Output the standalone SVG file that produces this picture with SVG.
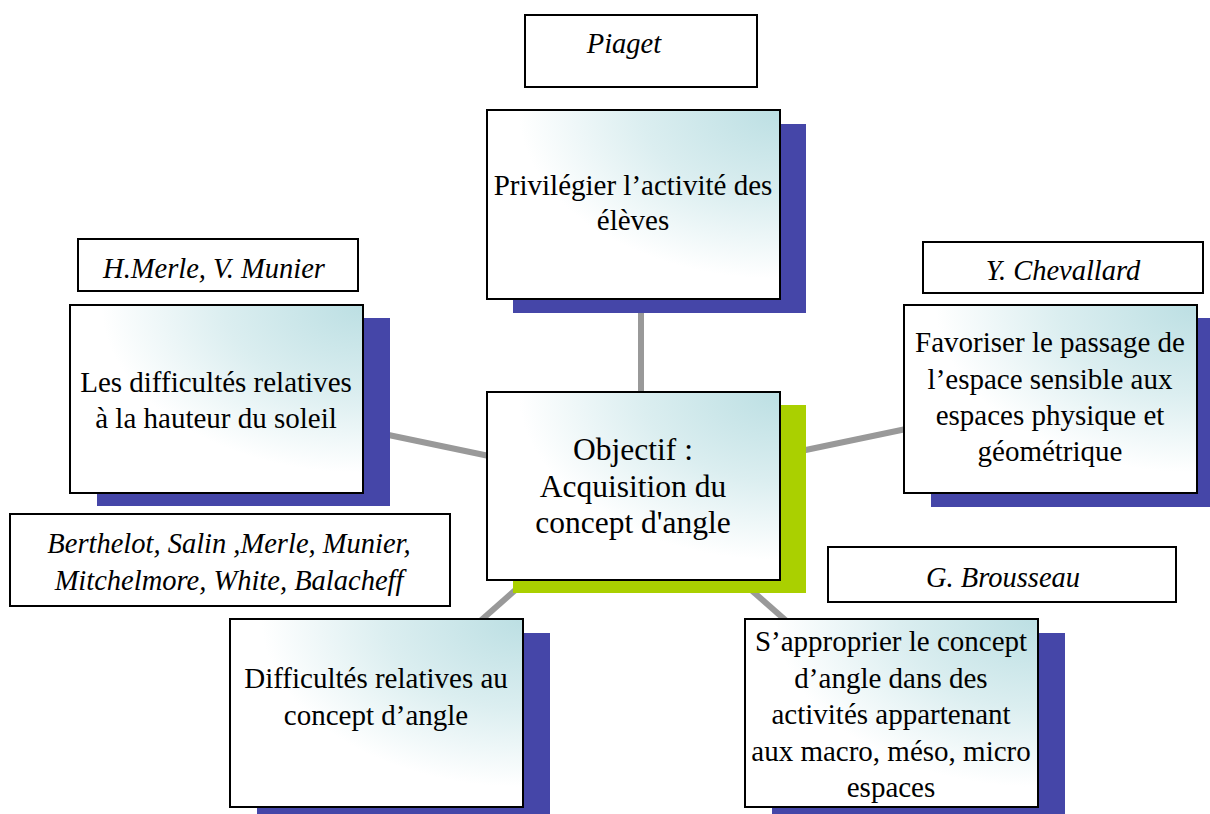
<svg xmlns="http://www.w3.org/2000/svg" width="1210" height="814" viewBox="0 0 1210 814">
<defs>
<radialGradient id="fillGrad" cx="1" cy="0" r="1.05" fx="1" fy="0">
<stop offset="0" stop-color="#bcdfe3"/>
<stop offset="0.45" stop-color="#dbeef0"/>
<stop offset="0.85" stop-color="#ffffff"/>
<stop offset="1" stop-color="#ffffff"/>
</radialGradient>
</defs>
<style>
.bg{fill:#ffffff}
.shadow{fill:#4546a8}
.shadowG{fill:#aad000}
.box{fill:url(#fillGrad);stroke:#000;stroke-width:2}
.lbl{fill:#fff;stroke:#000;stroke-width:2}
.conn{stroke:#999999;stroke-width:6;fill:none}
.t{font-family:"Liberation Serif","Times New Roman",serif;font-size:29px;fill:#000;text-anchor:middle}
.tc{font-family:"Liberation Serif","Times New Roman",serif;font-size:31.5px;fill:#000;text-anchor:middle}
.ti{font-family:"Liberation Serif","Times New Roman",serif;font-size:28.5px;font-style:italic;fill:#000;text-anchor:middle}
</style>
<rect class="bg" x="0" y="0" width="1210" height="814"/>
<g id="connectors">
<line class="conn" x1="641" y1="486" x2="641" y2="205"/>
<line class="conn" x1="633" y1="486" x2="216" y2="399"/>
<line class="conn" x1="633" y1="486" x2="1050" y2="399"/>
<line class="conn" x1="633" y1="486" x2="376" y2="713"/>
<line class="conn" x1="633" y1="486" x2="891" y2="713"/>
</g>
<g id="label-piaget">
<rect class="lbl" x="525" y="15" width="232" height="72"/>
<text class="ti" x="624" y="53">Piaget</text>
</g>
<g id="node-top">
<rect class="shadow" x="513" y="124" width="293" height="189"/>
<rect class="box" x="487" y="110" width="293" height="189"/>
<text class="t" x="633" y="195">Privilégier l’activité des</text>
<text class="t" x="633" y="230">élèves</text>
</g>
<g id="label-merle">
<rect class="lbl" x="78" y="239" width="280" height="52"/>
<text class="ti" x="214" y="278">H.Merle, V. Munier</text>
</g>
<g id="node-left">
<rect class="shadow" x="97" y="318" width="293" height="188"/>
<rect class="box" x="70" y="305" width="293" height="188"/>
<text class="t" x="216" y="392">Les difficultés relatives</text>
<text class="t" x="216" y="428">à la hauteur du soleil</text>
</g>
<g id="label-chevallard">
<rect class="lbl" x="923" y="242" width="280" height="51"/>
<text class="ti" x="1063" y="280">Y. Chevallard</text>
</g>
<g id="node-right">
<rect class="shadow" x="931" y="318" width="293" height="189"/>
<rect class="box" x="904" y="305" width="293" height="188"/>
<text class="t" x="1050" y="352">Favoriser le passage de</text>
<text class="t" x="1050" y="389">l’espace sensible aux</text>
<text class="t" x="1050" y="425">espaces physique et</text>
<text class="t" x="1050" y="461">géométrique</text>
</g>
<g id="node-center">
<rect class="shadowG" x="513" y="405" width="293" height="188"/>
<rect class="box" x="487" y="392" width="293" height="188"/>
<text class="tc" x="633" y="460">Objectif :</text>
<text class="tc" x="633" y="497">Acquisition du</text>
<text class="tc" x="633" y="533">concept d'angle</text>
</g>
<g id="label-berthelot">
<rect class="lbl" x="10" y="514" width="440" height="92"/>
<text class="ti" x="229" y="553">Berthelot, Salin ,Merle, Munier,</text>
<text class="ti" x="229" y="590">Mitchelmore, White, Balacheff</text>
</g>
<g id="label-brousseau">
<rect class="lbl" x="828" y="547" width="348" height="55"/>
<text class="ti" x="1003" y="587">G. Brousseau</text>
</g>
<g id="node-bottom-left">
<rect class="shadow" x="257" y="633" width="293" height="190"/>
<rect class="box" x="230" y="619" width="293" height="188"/>
<text class="t" x="376" y="688">Difficultés relatives au</text>
<text class="t" x="376" y="725">concept d’angle</text>
</g>
<g id="node-bottom-right">
<rect class="shadow" x="772" y="633" width="293" height="190"/>
<rect class="box" x="745" y="619" width="293" height="188"/>
<text class="t" x="891" y="651">S’approprier le concept</text>
<text class="t" x="891" y="688">d’angle dans des</text>
<text class="t" x="891" y="724">activités appartenant</text>
<text class="t" x="891" y="761">aux macro, méso, micro</text>
<text class="t" x="891" y="797">espaces</text>
</g>
</svg>
